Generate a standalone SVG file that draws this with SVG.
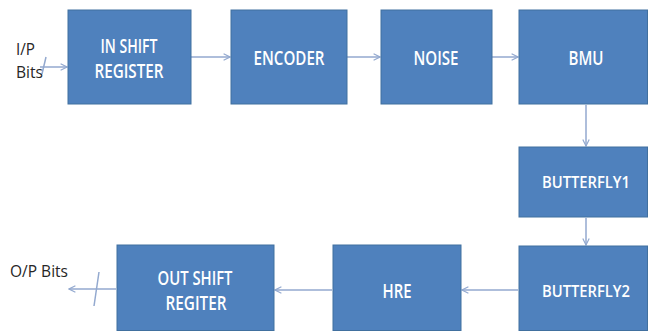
<svg xmlns="http://www.w3.org/2000/svg" width="648" height="331" viewBox="0 0 648 331">
<style>
.box{fill:#4f81bd;stroke:#41709f;stroke-width:1}
.t{fill:#ffffff;font-family:"Open Sans","Liberation Sans",sans-serif;font-size:19px;font-weight:600;text-anchor:middle}
.s{font-size:16px}
.l{fill:#262626;font-family:"Open Sans","Liberation Sans",sans-serif;font-size:17px}
.c{stroke:#93a9cf;stroke-width:1.5;fill:none}
</style>
<defs>
<marker id="ah" viewBox="0 0 10 10" refX="9" refY="5" markerWidth="8" markerHeight="8" markerUnits="userSpaceOnUse" orient="auto">
<polyline points="1,1 9,5 1,9" fill="none" stroke="#93a9cf" stroke-width="1.5"/>
</marker>
</defs>
<rect width="648" height="331" fill="#ffffff"/>
<g id="connectors">
<line class="c" x1="40" y1="67" x2="67" y2="67" marker-end="url(#ah)"/>
<line class="c" x1="46" y1="57" x2="42" y2="74"/>
<line class="c" x1="191" y1="57" x2="230" y2="57" marker-end="url(#ah)"/>
<line class="c" x1="347" y1="57" x2="380" y2="57" marker-end="url(#ah)"/>
<line class="c" x1="492" y1="57" x2="518" y2="57" marker-end="url(#ah)"/>
<line class="c" x1="586" y1="105" x2="586" y2="146" marker-end="url(#ah)"/>
<line class="c" x1="586" y1="218" x2="586" y2="245" marker-end="url(#ah)"/>
<line class="c" x1="518" y1="290" x2="462" y2="290" marker-end="url(#ah)"/>
<line class="c" x1="332" y1="290" x2="275" y2="290" marker-end="url(#ah)"/>
<line class="c" x1="116" y1="289" x2="69" y2="289" marker-end="url(#ah)"/>
<line class="c" x1="99" y1="272" x2="94" y2="306"/>
</g>
<g id="lbl-in">
<text class="l" x="16" y="55" textLength="19" lengthAdjust="spacingAndGlyphs">I/P</text>
<text class="l" x="16" y="78" textLength="27" lengthAdjust="spacingAndGlyphs">Bits</text>
</g>
<g id="lbl-out">
<text class="l" x="10" y="277" textLength="58" lengthAdjust="spacingAndGlyphs">O/P Bits</text>
</g>
<g id="inshift">
<rect class="box" x="68" y="10" width="123" height="94"/>
<text class="t" x="129" y="53" textLength="57" lengthAdjust="spacingAndGlyphs">IN SHIFT</text>
<text class="t" x="129" y="78" textLength="69" lengthAdjust="spacingAndGlyphs">REGISTER</text>
</g>
<g id="encoder">
<rect class="box" x="231" y="10" width="116" height="94"/>
<text class="t" x="289" y="65" textLength="71" lengthAdjust="spacingAndGlyphs">ENCODER</text>
</g>
<g id="noise">
<rect class="box" x="381" y="10" width="111" height="94"/>
<text class="t" x="436" y="65" textLength="45" lengthAdjust="spacingAndGlyphs">NOISE</text>
</g>
<g id="bmu">
<rect class="box" x="519" y="10" width="128.5" height="94"/>
<text class="t" x="586" y="65" textLength="35" lengthAdjust="spacingAndGlyphs">BMU</text>
</g>
<g id="butterfly1">
<rect class="box" x="519" y="147" width="128.5" height="70"/>
<text class="t s" x="586" y="188" textLength="88" lengthAdjust="spacingAndGlyphs">BUTTERFLY1</text>
</g>
<g id="butterfly2">
<rect class="box" x="519" y="246" width="128.5" height="84.5"/>
<text class="t s" x="586" y="297" textLength="88" lengthAdjust="spacingAndGlyphs">BUTTERFLY2</text>
</g>
<g id="hre">
<rect class="box" x="333" y="245" width="128" height="85.5"/>
<text class="t" x="397" y="298" textLength="29" lengthAdjust="spacingAndGlyphs">HRE</text>
</g>
<g id="outshift">
<rect class="box" x="117" y="245" width="157" height="85.5"/>
<text class="t" x="195" y="285" textLength="75" lengthAdjust="spacingAndGlyphs">OUT SHIFT</text>
<text class="t" x="196" y="310" textLength="61" lengthAdjust="spacingAndGlyphs">REGITER</text>
</g>
</svg>
